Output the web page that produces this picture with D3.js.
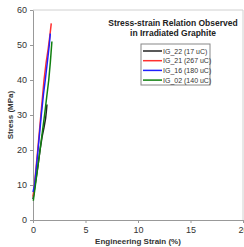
<!DOCTYPE html>
<html>
<head>
<meta charset="utf-8">
<script src="https://cdn.jsdelivr.net/npm/d3@7"></script>
<style>
  body { margin: 0; background: #fff; }
  text { font-family: "Liberation Sans", Arial, sans-serif; }
</style>
</head>
<body>
<div id="chart"></div>
<script>
// strain (%) / stress (MPa)
const seriesNames = ["IG_22 (17 uC)", "IG_21 (267 uC)", "IG_16 (180 uC)", "IG_02 (140 uC)"];
const seriesColors = ["#222222", "#ff3030", "#2020ff", "#108010"];

const ig22 = [[0, 6], [0.2, 10], [0.45, 15], [0.67, 20], [0.88, 24], [1.05, 26.5], [1.2, 29], [1.27, 31], [1.33, 33]];
const ig21 = [[0, 6.7], [0.14, 10], [0.45, 20], [0.75, 30], [1.05, 40], [1.25, 45], [1.45, 49], [1.6, 52.5], [1.74, 56.2]];
const ig16 = [[0, 8], [0.16, 10], [0.48, 20], [0.79, 30], [1.0, 36], [1.17, 40], [1.4, 46], [1.55, 50], [1.65, 53.3]];
const ig02 = [[0.03, 5.5], [0.23, 10], [0.67, 20], [1.1, 30], [1.3, 35], [1.5, 40], [1.65, 45], [1.8, 51]];
const allSeries = [ig22, ig21, ig16, ig02];

const xTicks = [0, 5, 10, 15, 20];
const yTicks = [0, 10, 20, 30, 40, 50, 60];

const width = 244, height = 247;
const margin = { top: 10, right: 1, bottom: 27, left: 33 };
const innerWidth = width - margin.left - margin.right;
const innerHeight = height - margin.top - margin.bottom;

const svg = d3.select("#chart").append("svg")
  .attr("width", width)
  .attr("height", height);

const g = svg.append("g")
  .attr("transform", `translate(${margin.left}, ${margin.top})`);

const xScale = d3.scaleLinear().domain([0, 20]).range([0, 210]);
const yScale = d3.scaleLinear().domain([0, 60]).range([innerHeight, 0]);

// plot border (top / right)
g.append("path")
  .attr("d", `M0,0H${xScale(20)}V${innerHeight}`)
  .attr("fill", "none")
  .attr("stroke", "#d0d0d0");

const xAxis = g.append("g")
  .attr("transform", `translate(0, ${innerHeight})`)
  .call(d3.axisBottom(xScale).tickValues(xTicks).tickSize(3).tickSizeOuter(0));

const yAxis = g.append("g")
  .call(d3.axisLeft(yScale).tickValues(yTicks).tickSize(3).tickSizeOuter(0));

[xAxis, yAxis].forEach(a => {
  a.select(".domain").attr("stroke", "#999");
  a.selectAll(".tick line").attr("stroke", "#999");
  a.selectAll(".tick text")
    .style("font-size", "9px")
    .attr("fill", "#333");
});
xAxis.selectAll(".tick text").attr("y", 7);
yAxis.selectAll(".tick text").attr("x", -6);

g.append("text")
  .attr("x", 105)
  .attr("y", innerHeight + 24)
  .attr("text-anchor", "middle")
  .style("font-size", "8px")
  .style("font-weight", "bold")
  .attr("fill", "#333")
  .text("Engineering Strain (%)");

g.append("text")
  .attr("transform", "rotate(-90)")
  .attr("x", -innerHeight / 2)
  .attr("y", -20)
  .attr("text-anchor", "middle")
  .style("font-size", "8px")
  .style("font-weight", "bold")
  .attr("fill", "#333")
  .text("Stress (MPa)");

// lines
const line = d3.line()
  .x(d => xScale(d[0]))
  .y(d => yScale(d[1]));

allSeries.forEach((s, i) => {
  g.append("path")
    .datum(s)
    .attr("fill", "none")
    .attr("stroke", seriesColors[i])
    .attr("stroke-width", 1.5)
    .attr("d", line);
});

// title
svg.append("text")
  .attr("x", 173)
  .attr("y", 26)
  .attr("text-anchor", "middle")
  .style("font-size", "8.5px")
  .style("font-weight", "bold")
  .attr("fill", "#222")
  .text("Stress-strain Relation Observed");
svg.append("text")
  .attr("x", 173)
  .attr("y", 36)
  .attr("text-anchor", "middle")
  .style("font-size", "8.5px")
  .style("font-weight", "bold")
  .attr("fill", "#222")
  .text("in Irradiated Graphite");

// legend
const legend = svg.append("g").attr("transform", "translate(141, 44)");
legend.append("rect")
  .attr("width", 69)
  .attr("height", 41)
  .attr("fill", "#fff")
  .attr("stroke", "#888");
seriesNames.forEach((name, i) => {
  const y = 7 + i * 9.7;
  legend.append("line")
    .attr("x1", 2).attr("x2", 21)
    .attr("y1", y).attr("y2", y)
    .attr("stroke", seriesColors[i])
    .attr("stroke-width", 1.5);
  legend.append("text")
    .attr("x", 22)
    .attr("y", y + 2.5)
    .style("font-size", "7px")
    .attr("fill", "#333")
    .text(name);
});
</script>
</body>
</html>
